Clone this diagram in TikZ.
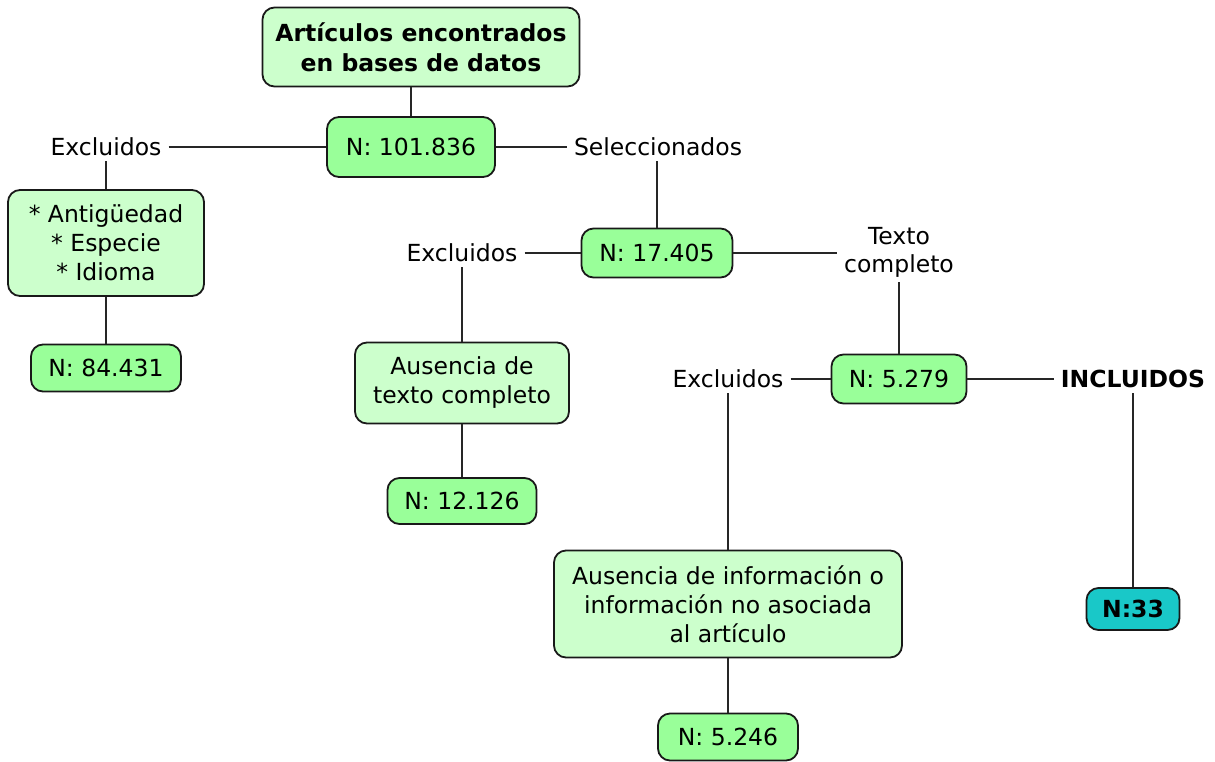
\documentclass[tikz,border=0pt]{standalone}
\usepackage{fontspec}
\setmainfont{DejaVu Sans}
\definecolor{lightbox}{HTML}{CCFFCC}
\definecolor{nbox}{HTML}{99FF99}
\definecolor{tealbox}{HTML}{19C8C8}
\begin{document}
\begin{tikzpicture}[x=1pt,y=-1pt,
  base/.style={draw=black!90,line width=1.8pt,rounded corners=12pt,align=center,inner sep=0pt,
    font=\fontsize{23.5}{29}\selectfont},
  lbox/.style={base,fill=lightbox},
  nnode/.style={base,fill=nbox},
  tnode/.style={base,fill=tealbox,font=\fontsize{23.5}{29}\selectfont\bfseries},
  lab/.style={align=center,inner xsep=7pt,inner ysep=5pt,font=\fontsize{23.5}{28}\selectfont},
  conn/.style={line width=1.6pt,draw=black!85}]
\useasboundingbox (0,0) rectangle (1215,761);
\node[lbox,minimum width=317pt,minimum height=79pt,font=\fontsize{23.5}{30}\selectfont\bfseries] (top) at (421,47) {Artículos encontrados\\en bases de datos};
\node[nnode,minimum width=168pt,minimum height=60pt] (n1) at (411,147) {N: 101.836};
\node[lab] (ex1) at (106,147) {Excluidos};
\node[lab] (sel) at (658,147) {Seleccionados};
\node[lbox,minimum width=196pt,minimum height=106pt] (crit) at (106,243) {* Antigüedad\\* Especie\\* Idioma};
\node[nnode,minimum width=150pt,minimum height=47pt] (n2) at (106,368) {N: 84.431};
\node[nnode,minimum width=151pt,minimum height=49pt] (n3) at (657,253) {N: 17.405};
\node[lab] (ex2) at (462,253) {Excluidos};
\node[lab] (tc) at (899,252) {Texto\\completo};
\node[lbox,minimum width=214pt,minimum height=81pt] (atc) at (462,383) {Ausencia de\\texto completo};
\node[nnode,minimum width=149pt,minimum height=46pt] (n4) at (462,501) {N: 12.126};
\node[nnode,minimum width=135pt,minimum height=49pt] (n5) at (899,379) {N: 5.279};
\node[lab] (ex3) at (728,379) {Excluidos};
\node[lab,font=\fontsize{23.5}{25}\selectfont\bfseries] (inc) at (1133,379) {INCLUIDOS};
\node[lbox,minimum width=348pt,minimum height=107pt] (ai) at (728,604) {Ausencia de información o\\información no asociada\\al artículo};
\node[nnode,minimum width=140pt,minimum height=47pt] (n6) at (728,737) {N: 5.246};
\node[tnode,minimum width=93pt,minimum height=42pt] (n7) at (1133,609) {N:33};
\draw[conn] (top.south -| n1) -- (n1);
\draw[conn] (ex1) -- (n1);
\draw[conn] (n1) -- (sel);
\draw[conn] (ex1) -- (crit);
\draw[conn] (crit) -- (n2);
\draw[conn] (sel.south -| n3) -- (n3);
\draw[conn] (ex2) -- (n3);
\draw[conn] (n3.east) -- (n3 -| tc.west);
\draw[conn] (tc) -- (n5);
\draw[conn] (ex2) -- (atc);
\draw[conn] (atc) -- (n4);
\draw[conn] (ex3) -- (n5);
\draw[conn] (n5) -- (inc);
\draw[conn] (ex3) -- (ai);
\draw[conn] (ai) -- (n6);
\draw[conn] (inc) -- (n7);
\end{tikzpicture}
\end{document}
